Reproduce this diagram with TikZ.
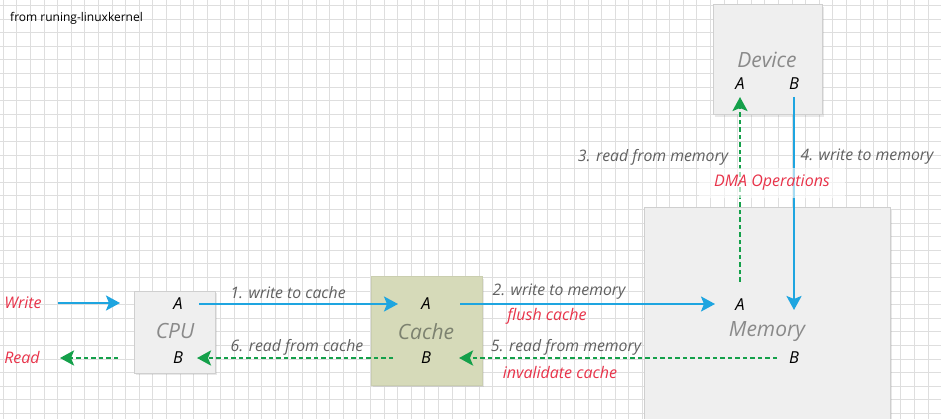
\documentclass[tikz,border=0pt]{standalone}
\usepackage{fontspec}
\setmainfont{Open Sans}
\usetikzlibrary{arrows.meta,shadows}
\definecolor{gridc}{HTML}{DEDEDE}
\definecolor{boxfill}{HTML}{EFEFEF}
\definecolor{boxline}{HTML}{CFCFCF}
\definecolor{cachefill}{HTML}{D6DAB9}
\definecolor{cacheline}{HTML}{CACEAF}
\definecolor{arrblue}{HTML}{1EA5E0}
\definecolor{arrgreen}{HTML}{14A04A}
\definecolor{labred}{HTML}{E8334A}
\definecolor{labgray}{HTML}{606060}
\definecolor{namegray}{HTML}{8A8A8A}
\definecolor{cachegray}{HTML}{7D8270}
\tikzset{
  gridline/.style={draw=gridc, line width=1.1pt},
  unitbox/.style={rectangle, draw=boxline, fill=boxfill, line width=1pt,
    drop shadow={opacity=0.18, shadow xshift=2pt, shadow yshift=-2pt}},
  port/.style={inner sep=0pt, font=\fontsize{16.5}{16.5}\selectfont\itshape, text=black},
  unitname/.style={inner sep=0pt, font=\fontsize{21}{21}\selectfont\itshape, text=namegray},
  steplabel/.style={inner sep=0pt, font=\fontsize{15.8}{15.8}\selectfont\itshape, text=labgray},
  redlabel/.style={inner sep=0pt, font=\fontsize{16}{16}\selectfont\itshape, text=labred},
  bluearrow/.style={draw=arrblue, line width=2.3pt, -{Stealth[length=14pt,width=15pt,inset=3pt]}},
  greenarrow/.style={draw=arrgreen, line width=2.6pt, dash pattern=on 4.5pt off 3pt,
    -{Stealth[length=14pt,width=15pt,inset=3pt]}},
}
\begin{document}
\begin{tikzpicture}[x=1pt,y=-1pt]
\useasboundingbox (0,0) rectangle (941,419);
\clip (0,0) rectangle (941,419);
\fill[white] (0,0) rectangle (941,419);
% grid
\foreach \i in {0,...,69} \draw[gridline] ({3.3+13.6*\i},0) -- ({3.3+13.6*\i},419);
\foreach \j in {0,...,31} \draw[gridline] (0,{5.5+13.6*\j}) -- (941,{5.5+13.6*\j});
% header
\node[anchor=west, inner sep=0pt, font=\fontsize{12}{12}\selectfont, text=black] (src) at (10,18) {from runing-linuxkernel};
% boxes
\node[unitbox, minimum width=81pt, minimum height=82pt] (cpu) at (174.5,332) {};
\node[unitbox, draw=cacheline, fill=cachefill, minimum width=111pt, minimum height=108pt] (cache) at (426.5,331) {};
\node[unitbox, minimum width=246pt, minimum height=240pt] (mem) at (767,328) {};
\node[unitbox, minimum width=109pt, minimum height=110pt] (dev) at (767.5,60) {};
% texts in boxes
\node[port] (cpuA) at (178,304) {A};
\node[unitname] (cpuN) at (175,331) {CPU};
\node[port] (cpuB) at (178,358) {B};
\node[port] (cacheA) at (426,304) {A};
\node[unitname, text=cachegray] (cacheN) at (426,332) {Cache};
\node[port] (cacheB) at (426,358) {B};
\node[port] (memA) at (740,305) {A};
\node[unitname] (memN) at (767,332) {Memory};
\node[port] (memB) at (794,358) {B};
\node[unitname] (devN) at (767,60) {Device};
\node[port] (devA) at (740,84) {A};
\node[port] (devB) at (794,84) {B};
% outer labels
\node[redlabel] (writeL) at (23,303) {Write};
\node[redlabel] (readL) at (22,357) {Read};
% arrows
\draw[bluearrow, shorten <=35pt, shorten >=58pt] (writeL.center) -- (cpuA.center |- writeL.center);
\draw[greenarrow, shorten <=60pt, shorten >=38pt] (cpuB.center) -- (readL.center |- cpuB.center);
\draw[bluearrow, shorten <=21pt, shorten >=28pt] (cpuA.center) -- (cacheA.center);
\draw[greenarrow, shorten <=33pt, shorten >=19pt] (cacheB.center) -- (cpuB.center);
\draw[bluearrow, shorten <=34pt, shorten >=25pt] (cacheA.center) -- (memA.center |- cacheA.center);
\draw[greenarrow, shorten <=17pt, shorten >=33pt] (memB.center) -- (cacheB.center);
\draw[greenarrow, shorten <=23pt, shorten >=13pt] (memA.center) -- (devA.center);
\draw[bluearrow, shorten <=13pt, shorten >=48pt] (devB.center) -- (memB.center);
% step labels
\node[steplabel] (l1) at (288,293) {1. write to cache};
\node[steplabel] (l6) at (297,347) {6. read from cache};
\node[steplabel] (l2) at (559,292) {2. write to memory};
\node[redlabel] (lf) at (547,316) {flush cache};
\node[steplabel] (l5) at (566,347) {5. read from memory};
\node[redlabel] (li) at (560,372) {invalidate cache};
\node[steplabel] (l3) at (653,157) {3. read from memory};
\node[steplabel] (l4) at (867,157) {4. write to memory};
\node[redlabel, fill=white, fill opacity=0.6, text opacity=1, minimum width=146pt, minimum height=30pt] (dma) at (772,183) {DMA Operations};
\end{tikzpicture}
\end{document}
